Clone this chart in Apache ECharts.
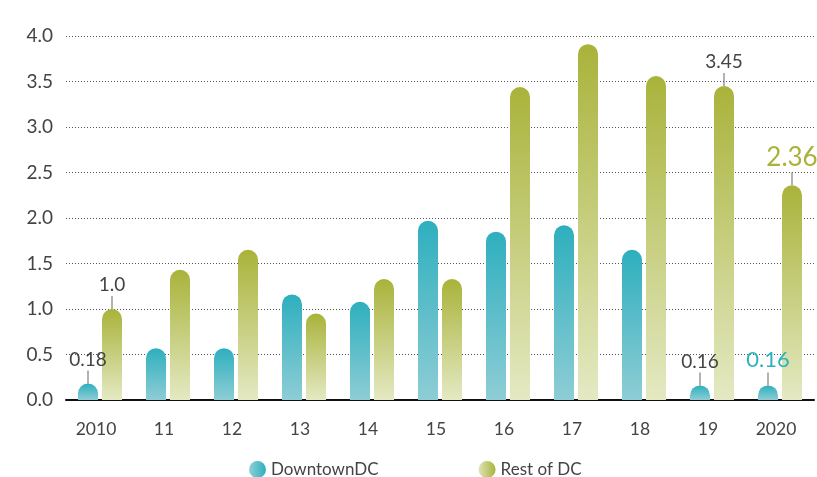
<!doctype html>
<html>
<head>
<meta charset="UTF-8">
<title>DowntownDC vs Rest of DC</title>
<script src="https://cdn.jsdelivr.net/npm/echarts@6/dist/echarts.min.js"></script>
<style>
	html,body{margin:0;padding:0;background:#fff;}
	#main{width:817px;height:477px;}
</style>
</head>
<body>
<div id="main"></div>
<script>
// 数据
var years = ['2010', '11', '12', '13', '14', '15', '16', '17', '18', '19', '2020'];
var downtown = [0.18, 0.57, 0.57, 1.16, 1.08, 1.97, 1.85, 1.92, 1.65, 0.16, 0.16];
var restOfDC = [1.0, 1.43, 1.65, 0.95, 1.33, 1.33, 3.44, 3.91, 3.56, 3.45, 2.36];
var yTicks = [0, 0.5, 1.0, 1.5, 2.0, 2.5, 3.0, 3.5, 4.0];
// 需要显示数值的柱子
var downtownLabels = {0: '0.18', 9: '0.16', 10: '0.16'};
var restLabels = {0: '1.0', 9: '3.45', 10: '2.36'};

var TEAL = '#2eafbe', OLIVE = '#a9b33a';

function grad(top, bottom){
	return new echarts.graphic.LinearGradient(0, 0, 0, 1, [
		{offset: 0, color: top}, {offset: 1, color: bottom}
	]);
}
function hgrad(left, right){
	return new echarts.graphic.LinearGradient(0, 0, 1, 0, [
		{offset: 0, color: left}, {offset: 1, color: right}
	]);
}

function leaderLabel(text, color, size){
	return {
		show: true,
		position: 'top',
		distance: 0,
		formatter: '{v|' + text + '}\n{l| }',
		rich: {
			v: {color: color, fontSize: size, fontFamily: 'Lato', lineHeight: size + 2, padding: [0, 0, 1, 0]},
			l: {width: 1, height: 13, lineHeight: 13, backgroundColor: '#666', fontSize: 1}
		}
	};
}

function buildData(values, labels, isBlue){
	return values.map(function(v, i){
		var item = {value: v};
		if (labels[i] !== undefined) {
			var color = '#444', size = 19;
			if (i === values.length - 1) {
				color = isBlue ? '#2fb1c0' : OLIVE;
				size = isBlue ? 22 : 26;
			}
			item.label = leaderLabel(labels[i], color, size);
		}
		return item;
	});
}

var chart = echarts.init(document.getElementById('main'));
chart.setOption({
	animation: false,
	textStyle: {fontFamily: 'Lato'},
	grid: {left: 66, right: 3, top: 36, bottom: 77},
	legend: {
		left: 244,
		top: 456,
		itemWidth: 17,
		itemHeight: 17,
		itemGap: 100,
		icon: 'circle',
		textStyle: {fontSize: 17, color: '#444', fontFamily: 'Lato'},
		data: [
			{name: 'DowntownDC', itemStyle: {color: hgrad('#8fd0d8', TEAL)}},
			{name: 'Rest of DC', itemStyle: {color: hgrad('#dfe4b8', OLIVE)}}
		]
	},
	xAxis: {
		type: 'category',
		data: years,
		axisLine: {lineStyle: {color: '#111', width: 2}},
		axisTick: {show: false},
		axisLabel: {fontSize: 17.5, color: '#444', margin: 20, padding: [0, 8, 0, 0]}
	},
	yAxis: {
		type: 'value',
		min: yTicks[0],
		max: yTicks[yTicks.length - 1],
		interval: 0.5,
		axisLine: {show: false},
		axisTick: {show: false},
		axisLabel: {
			fontSize: 19, color: '#444', margin: 13,
			formatter: function(v){ return v.toFixed(1); }
		},
		splitLine: {lineStyle: {color: '#555', type: [1, 2], width: 1}}
	},
	series: [
		{
			name: 'DowntownDC',
			type: 'bar',
			barWidth: 20,
			barGap: '20%',
			itemStyle: {color: grad(TEAL, '#8ecdd5'), borderRadius: [10, 10, 0, 0]},
			data: buildData(downtown, downtownLabels, true)
		},
		{
			name: 'Rest of DC',
			type: 'bar',
			barWidth: 20,
			itemStyle: {color: grad(OLIVE, '#e4e9c3'), borderRadius: [10, 10, 0, 0]},
			data: buildData(restOfDC, restLabels, false)
		}
	]
});
</script>
</body>
</html>
